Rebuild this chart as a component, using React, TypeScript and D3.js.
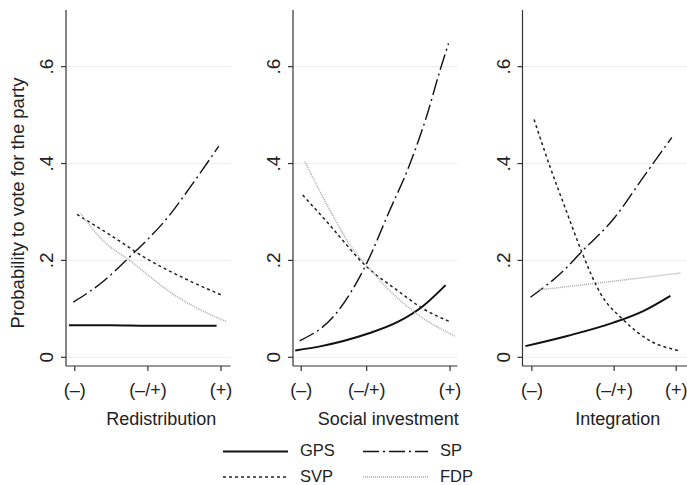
import React from "react";
import * as d3 from "d3";

const W = 687;
const H = 485;
const FONT = "'Liberation Sans', Arial, Helvetica, sans-serif";

const panelTitles = ["Redistribution", "Social investment", "Integration"];
const xTickLabels = ["(–)", "(–/+)", "(+)"];
const yTicks = [0, 0.2, 0.4, 0.6];
const yTickLabels = ["0", ".2", ".4", ".6"];

// tick positions (low, middle, high) and axis extent for each panel
const xTickValues = [
  [-1, 0, 1],
  [-1, -0.12, 1],
  [-1, 0.14, 1]
];
const xDomains = [
  [-1.12, 1.13],
  [-1.11, 1.1],
  [-1.13, 1.15]
];

const parties = ["GPS", "SP", "SVP", "FDP"];

// predicted probabilities, [x, p]
const gpsRedis = [[-1.08, 0.066], [-0.5, 0.066], [0, 0.065], [0.5, 0.065], [0.94, 0.065]];
const spRedis = [[-1.02, 0.114], [-0.6, 0.158], [-0.3, 0.2], [0.31, 0.296], [0.62, 0.36], [0.97, 0.436]];
const svpRedis = [[-0.97, 0.295], [-0.51, 0.252], [-0.01, 0.203], [0.54, 0.16], [1.03, 0.127]];
const fdpRedis = [[-0.92, 0.297], [-0.6, 0.239], [-0.26, 0.201], [0.4, 0.125], [0.77, 0.094], [1.07, 0.074]];

const gpsSocial = [[-1.08, 0.014], [-0.73, 0.023], [-0.12, 0.048], [0.31, 0.074], [0.63, 0.105], [0.94, 0.149]];
const spSocial = [[-1.02, 0.034], [-0.55, 0.087], [-0.12, 0.194], [0.18, 0.3], [0.45, 0.395], [0.7, 0.505], [0.86, 0.59], [0.98, 0.648]];
const svpSocial = [[-0.98, 0.335], [-0.64, 0.277], [-0.12, 0.187], [0.31, 0.136], [0.63, 0.101], [0.99, 0.074]];
const fdpSocial = [[-0.95, 0.404], [-0.64, 0.311], [-0.28, 0.218], [-0.12, 0.19], [0.18, 0.139], [0.54, 0.091], [1.06, 0.044]];

const gpsInteg = [[-1.09, 0.023], [-0.51, 0.044], [0.14, 0.072], [0.55, 0.096], [0.92, 0.127]];
const spInteg = [[-1.02, 0.124], [-0.56, 0.179], [-0.31, 0.218], [0.14, 0.287], [0.55, 0.373], [0.94, 0.454]];
const svpInteg = [[-0.97, 0.491], [-0.75, 0.394], [-0.51, 0.297], [-0.31, 0.218], [-0.05, 0.132], [0.27, 0.077], [0.64, 0.034], [1.03, 0.014]];
const fdpInteg = [[-0.91, 0.139], [-0.1, 0.153], [1.06, 0.174]];

const panelData = [
  [gpsRedis, spRedis, svpRedis, fdpRedis],
  [gpsSocial, spSocial, svpSocial, fdpSocial],
  [gpsInteg, spInteg, svpInteg, fdpInteg]
];

// line style per party
const styles = [
  { stroke: "#111", width: 2, dash: null },
  { stroke: "#111", width: 1.4, dash: "16,4,2,4" },
  { stroke: "#222", width: 1.5, dash: "3,3" },
  { stroke: "#aaa", width: 1.5, dash: "1,1" }
];

const panelLeft = [66, 293, 522.5];
const panelWidth = 164.5;
const plotTop = 10;
const plotBottom = 366;

const y = d3.scaleLinear().domain([-0.018, 0.717]).range([plotBottom, plotTop]);

function Panel({ i }: { i: number }) {
  const x0 = panelLeft[i];
  const x = d3
    .scaleLinear()
    .domain(xDomains[i])
    .range([x0, x0 + panelWidth]);
  const line = d3
    .line<number[]>()
    .x(d => x(d[0]))
    .y(d => y(d[1]))
    .curve(d3.curveMonotoneX);

  return (
    <g>
      {/* gridlines */}
      {yTicks.map(t => (
        <line key={"g" + t} x1={x0} x2={x0 + panelWidth} y1={y(t)} y2={y(t)} stroke="#ebebeb" strokeWidth={1} />
      ))}
      {/* series */}
      {panelData[i].map((s, k) => (
        <path
          key={parties[k]}
          d={line(s) || ""}
          fill="none"
          stroke={styles[k].stroke}
          strokeWidth={styles[k].width}
          strokeDasharray={styles[k].dash || undefined}
        />
      ))}
      {/* y axis */}
      <line x1={x0} x2={x0} y1={plotTop} y2={plotBottom} stroke="#333" strokeWidth={1.2} />
      {yTicks.map((t, k) => (
        <g key={"y" + t}>
          <line x1={x0 - 5} x2={x0} y1={y(t)} y2={y(t)} stroke="#333" strokeWidth={1.2} />
          <text
            transform={`translate(${x0 - 13},${y(t)}) rotate(-90)`}
            textAnchor="middle"
            fontSize={19}
            fontFamily={FONT}
            fill="#222"
          >
            {yTickLabels[k]}
          </text>
        </g>
      ))}
      {/* x axis */}
      <line x1={x0} x2={x0 + panelWidth} y1={plotBottom} y2={plotBottom} stroke="#333" strokeWidth={1.2} />
      {xTickValues[i].map((t, k) => (
        <g key={"x" + k}>
          <line x1={x(t)} x2={x(t)} y1={plotBottom} y2={plotBottom + 5} stroke="#333" strokeWidth={1.2} />
          <text x={x(t)} y={396} textAnchor="middle" fontSize={18} fontFamily={FONT} fill="#222">
            {xTickLabels[k]}
          </text>
        </g>
      ))}
      <text x={x0 + panelWidth / 2 + 13} y={425} textAnchor="middle" fontSize={18} fontFamily={FONT} fill="#222">
        {panelTitles[i]}
      </text>
    </g>
  );
}

export default function App() {
  const legendX = [223, 363];
  const legendY = [451.5, 477];
  return (
    <svg width={W} height={H} style={{ position: "absolute", left: 0, top: 0, background: "#fff" }}>
      <rect width={W} height={H} fill="#fff" />
      <text
        transform={`translate(24,203) rotate(-90)`}
        textAnchor="middle"
        fontSize={18.5}
        fontFamily={FONT}
        fill="#222"
      >
        Probability to vote for the party
      </text>
      {[0, 1, 2].map(i => (
        <Panel key={i} i={i} />
      ))}
      {parties.map((p, k) => {
        const lx = legendX[k % 2];
        const ly = legendY[Math.floor(k / 2)];
        return (
          <g key={p}>
            <line
              x1={lx}
              x2={lx + 65}
              y1={ly}
              y2={ly}
              stroke={styles[k].stroke}
              strokeWidth={styles[k].width}
              strokeDasharray={styles[k].dash || undefined}
            />
            <text x={lx + 77} y={ly + 4.5} fontSize={16.5} fontFamily={FONT} fill="#222">
              {p}
            </text>
          </g>
        );
      })}
    </svg>
  );
}
